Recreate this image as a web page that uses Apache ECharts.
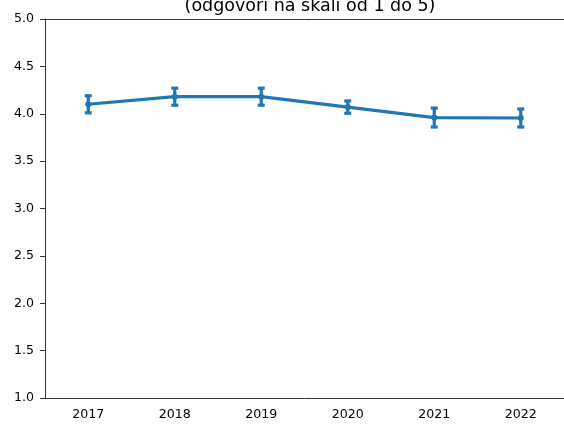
<!DOCTYPE html>
<html>
<head>
<meta charset="utf-8">
<script src="https://cdn.jsdelivr.net/npm/echarts@6/dist/echarts.min.js"></script>
<style>
  html, body { margin: 0; padding: 0; background: #fff; }
  #chart { width: 564px; height: 427px; }
</style>
</head>
<body>
<div id="chart"></div>
<script>
  // data
  var years = ['2017', '2018', '2019', '2020', '2021', '2022']
  var means = [4.10, 4.18, 4.18, 4.07, 3.96, 3.955]
  var errs = [0.09, 0.09, 0.09, 0.065, 0.10, 0.095]
  var yTicks = [1.0, 5.0, 0.5]  // min, max, step

  var blue = '#1f77b4'
  var font = 'DejaVu Sans'

  var errData = years.map(function (y, i) {
    return [i, means[i] - errs[i], means[i] + errs[i]]
  })

  var chart = echarts.init(document.getElementById('chart'))
  chart.setOption({
    animation: false,
    title: {
      text: '(odgovori na skali od 1 do 5)',
      left: 305,
      textAlign: 'center',
      top: -8,
      textStyle: { fontFamily: font, fontSize: 17.5, fontWeight: 'normal', color: '#000' }
    },
    grid: { left: 45, top: 19, width: 522, height: 379 },
    xAxis: [{
      type: 'category',
      data: years,
      boundaryGap: true,
      axisLine: { lineStyle: { color: '#000', width: 0.8 } },
      axisTick: { alignWithLabel: true, length: 5, lineStyle: { color: '#000', width: 0.8 } },
      axisLabel: { fontFamily: font, fontSize: 12.6, color: '#000', margin: 10 },
      splitLine: { show: false }
    }, {
      // top spine only
      type: 'category',
      position: 'top',
      data: years,
      axisLine: { lineStyle: { color: '#000', width: 0.8 } },
      axisTick: { show: false },
      axisLabel: { show: false }
    }],
    yAxis: {
      type: 'value',
      min: yTicks[0],
      max: yTicks[1],
      interval: yTicks[2],
      axisLine: { show: true, lineStyle: { color: '#000', width: 0.8 } },
      axisTick: { show: true, length: 5, lineStyle: { color: '#000', width: 0.8 } },
      axisLabel: {
        fontFamily: font, fontSize: 12.6, color: '#000', margin: 11,
        formatter: function (v) { return v.toFixed(1) }
      },
      splitLine: { show: false }
    },
    series: [{
      type: 'line',
      data: means,
      symbol: 'circle',
      symbolSize: 6,
      itemStyle: { color: blue },
      lineStyle: { color: blue, width: 3.2 },
      z: 3
    }, {
      type: 'custom',
      data: errData,
      z: 4,
      renderItem: function (params, api) {
        var x = api.value(0)
        var lo = api.coord([x, api.value(1)])
        var hi = api.coord([x, api.value(2)])
        var w = 3.5
        var style = { stroke: blue, lineWidth: 3.2 }
        return {
          type: 'group',
          children: [
            { type: 'line', shape: { x1: lo[0], y1: lo[1], x2: hi[0], y2: hi[1] }, style: style },
            { type: 'line', shape: { x1: lo[0] - w, y1: lo[1], x2: lo[0] + w, y2: lo[1] }, style: style },
            { type: 'line', shape: { x1: hi[0] - w, y1: hi[1], x2: hi[0] + w, y2: hi[1] }, style: style }
          ]
        }
      }
    }]
  })
</script>
</body>
</html>
